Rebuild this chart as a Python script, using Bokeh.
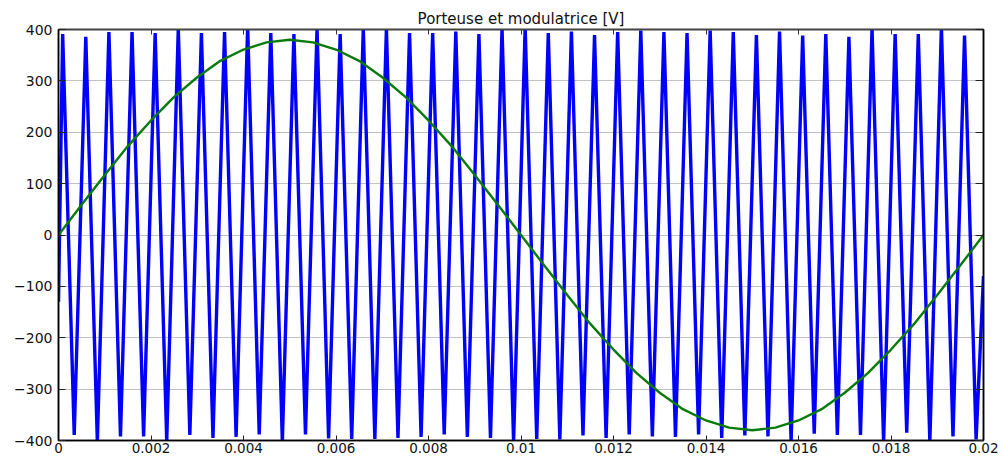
from bokeh.plotting import figure
from bokeh.models import LinearAxis, FixedTicker, NumeralTickFormatter, Range1d
from bokeh.embed import file_html
from bokeh.resources import INLINE

TITLE = "Porteuse et modulatrice [V]"

# x ticks and y ticks
x_ticks = [0, 0.002, 0.004, 0.006, 0.008, 0.01, 0.012, 0.014, 0.016, 0.018, 0.02]
y_ticks = [-400, -300, -200, -100, 0, 100, 200, 300, 400]

# carrier (porteuse): triangle vertices
carrier_start = (0.0, -130)
carrier_end = (0.02, -80)
peak_t = [0.00009, 0.00059, 0.00109, 0.00159, 0.00209, 0.00259, 0.00309, 0.00359,
          0.00409, 0.00459, 0.00509, 0.00559, 0.00609, 0.00659, 0.00709, 0.00759,
          0.00809, 0.00859, 0.00909, 0.00959, 0.01009, 0.01059, 0.01109, 0.01159,
          0.01209, 0.01259, 0.01309, 0.01359, 0.01409, 0.01459, 0.01509, 0.01559,
          0.01609, 0.01659, 0.01709, 0.01759, 0.01809, 0.01859, 0.01909, 0.01959]
peak_v = [391, 386, 395, 395, 393, 402, 393, 395, 405, 393, 391, 402,
          391, 402, 402, 393, 393, 396, 391, 402, 405, 393, 396, 389, 395, 398,
          395, 393, 398, 395, 389, 396, 388, 391, 386, 402, 391, 391, 405, 388]
trough_t = [0.00034, 0.00084, 0.00134, 0.00184, 0.00234, 0.00284, 0.00334, 0.00384,
            0.00434, 0.00484, 0.00534, 0.00584, 0.00634, 0.00684, 0.00734, 0.00784,
            0.00834, 0.00884, 0.00934, 0.00984, 0.01034, 0.01084, 0.01134, 0.01184,
            0.01234, 0.01284, 0.01334, 0.01384, 0.01434, 0.01484, 0.01534, 0.01584,
            0.01634, 0.01684, 0.01734, 0.01784, 0.01834, 0.01884, 0.01934, 0.01984]
trough_v = [-389, -403, -392, -392, -401, -389, -395, -393, -388, -403, -388, -396,
            -397, -397, -395, -393, -388, -393, -395, -402, -397, -398, -390, -395, -388, -392,
            -393, -388, -395, -390, -392, -402, -387, -389, -389, -402, -385, -402, -392, -398]

# modulating signal (modulatrice), read every 0.5 ms
mod_t = [0.0, 0.0005, 0.001, 0.0015, 0.002, 0.0025, 0.003, 0.0035, 0.004, 0.0045,
         0.005, 0.0055, 0.006, 0.0065, 0.007, 0.0075, 0.008, 0.0085, 0.009, 0.0095,
         0.01, 0.0105, 0.011, 0.0115, 0.012, 0.0125, 0.013, 0.0135, 0.014, 0.0145,
         0.015, 0.0155, 0.016, 0.0165, 0.017, 0.0175, 0.018, 0.0185, 0.019, 0.0195, 0.02]
mod_v = [0, 59, 117, 173, 223, 269, 307, 339, 361, 375,
         380, 375, 361, 339, 307, 269, 223, 173, 117, 59,
         0, -59, -117, -173, -223, -269, -307, -339, -361, -375,
         -380, -375, -361, -339, -307, -269, -223, -173, -117, -59, 0]

car_t = [carrier_start[0]]
car_v = [carrier_start[1]]
for a, b, c, d in zip(peak_t, peak_v, trough_t, trough_v):
    car_t += [a, c]
    car_v += [b, d]
car_t.append(carrier_end[0])
car_v.append(carrier_end[1])

FONT = "DejaVu Sans"

p = figure(width=1003, height=457, output_backend="svg", toolbar_location=None,
           x_range=Range1d(0, 0.02), y_range=Range1d(-400, 400),
           title=TITLE, min_border_left=58, min_border_right=20,
           min_border_top=29, min_border_bottom=17)
p.background_fill_color = "white"
p.border_fill_color = "white"
p.outline_line_color = "black"
p.outline_line_width = 1.5

p.title.align = "center"
p.title.text_font = FONT
p.title.text_font_size = "15px"
p.title.text_font_style = "normal"
p.title.text_color = "#111111"
p.title.standoff = 4
p.title.offset = 0

p.xgrid.visible = False
p.ygrid.ticker = FixedTicker(ticks=y_ticks)
p.ygrid.grid_line_color = "#858585"
p.ygrid.grid_line_dash = "1 1"
p.ygrid.grid_line_width = 1

for ax in p.xaxis:
    ax.ticker = FixedTicker(ticks=x_ticks)
    ax.formatter = NumeralTickFormatter(format="0.[000]")
    ax.major_tick_in = 5
    ax.major_tick_out = 0
    ax.minor_tick_line_color = None
    ax.axis_line_width = 1.5
    ax.axis_line_color = "black"
    ax.major_tick_line_color = "#222222"
    ax.major_label_text_font = FONT
    ax.major_label_text_font_size = "13.5px"
    ax.major_label_text_color = "#111111"
    ax.major_label_standoff = 2

for ax in p.yaxis:
    ax.ticker = FixedTicker(ticks=y_ticks)
    ax.major_tick_in = 7
    ax.major_tick_out = 0
    ax.minor_tick_line_color = None
    ax.axis_line_width = 1.5
    ax.axis_line_color = "black"
    ax.major_tick_line_color = "#222222"
    ax.major_label_text_font = FONT
    ax.major_label_text_font_size = "14px"
    ax.major_label_text_color = "#111111"
    ax.major_label_standoff = 6

top = LinearAxis(ticker=FixedTicker(ticks=x_ticks), major_tick_in=5, major_tick_out=0,
                 minor_tick_line_color=None, axis_line_color="#444444", axis_line_width=1.5,
                 major_tick_line_color="#333333", major_label_text_font_size="1px",
                 major_label_text_color=None, major_label_standoff=0)
p.add_layout(top, "above")
right = LinearAxis(ticker=FixedTicker(ticks=y_ticks), major_tick_in=8, major_tick_out=0,
                   minor_tick_line_color=None, axis_line_color="black", axis_line_width=1.5,
                   major_tick_line_color="#222222", major_label_text_font_size="1px",
                   major_label_text_color=None, major_label_standoff=0)
p.add_layout(right, "right")

p.line(car_t, car_v, line_color="#0000ff", line_width=3.4, line_join="bevel")
p.line(mod_t, mod_v, line_color="#0a7a0a", line_width=2.4)

open("out.html", "w").write(file_html(p, INLINE))
